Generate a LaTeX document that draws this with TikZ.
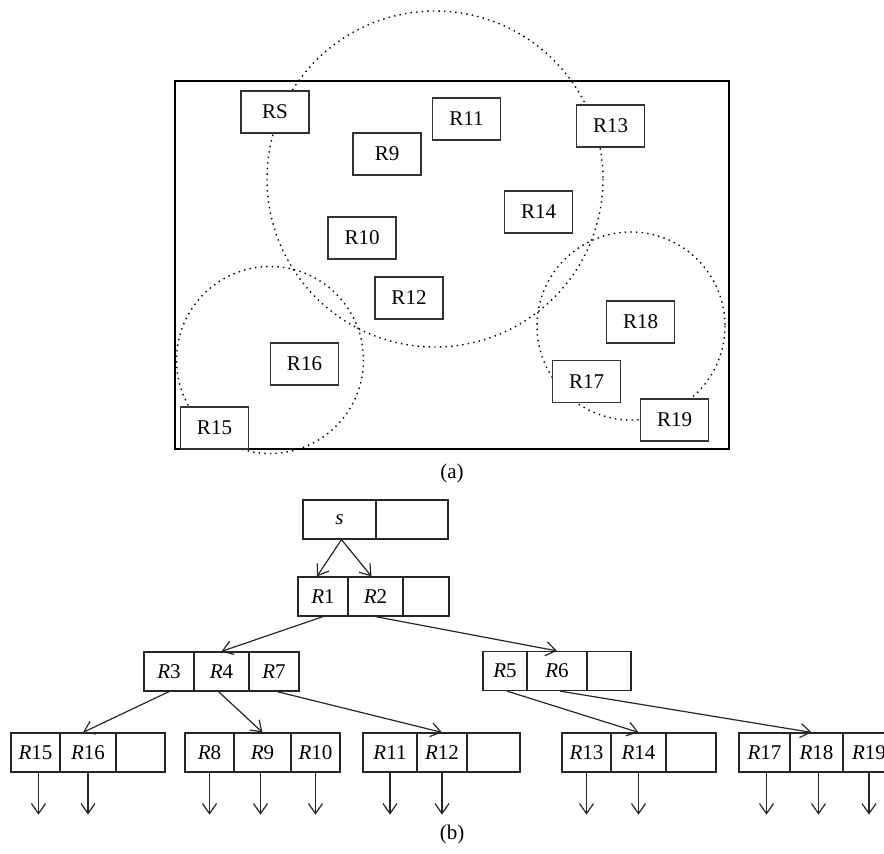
\documentclass[tikz,border=0pt]{standalone}
\usepackage{fontspec}
\setmainfont{Liberation Serif}
\usetikzlibrary{arrows.meta}

\begin{document}
\begin{tikzpicture}[x=0.5pt, y=-0.5pt,
  every node/.style={font=\fontsize{10.5}{12}\selectfont},
  region/.style={rectangle, draw=black!80, fill=white, line width=0.6pt,
                 minimum width=34pt, minimum height=21pt, inner sep=0pt},
  mbr/.style={dash pattern=on 0.7pt off 2.1pt, line width=0.7pt},
  slot/.style={rectangle, draw=black!85, line width=0.6pt, minimum width=#1,
               minimum height=19.5pt, inner sep=0pt},
  link/.style={-{Straight Barb[length=5pt,width=7pt]}, line width=0.6pt, black!85}
]
  \useasboundingbox (0,0) rectangle (884,853);

  % (a) regions and covering circles
  \draw[line width=0.55pt] (175,81) rectangle (729,449);
  \draw[mbr] (435,179) circle (168);
  \draw[mbr] (270,360) circle (93.5);
  \draw[mbr] (631,326) circle (94);

  \node[region] (rs)  at (275,112)   {RS};
  \node[region] (a11) at (466.5,119) {R11};
  \node[region] (a13) at (610.5,126) {R13};
  \node[region] (a9)  at (387,154)   {R9};
  \node[region] (a14) at (538.5,212) {R14};
  \node[region] (a10) at (362,238)   {R10};
  \node[region] (a12) at (409,298)   {R12};
  \node[region] (a18) at (640.5,322) {R18};
  \node[region] (a16) at (304.5,364) {R16};
  \node[region] (a17) at (586.5,381.5) {R17};
  \node[region] (a19) at (674.5,420) {R19};
  \node[region] (a15) at (214.5,428) {R15};

  \node (capa) at (452,473) {(a)};

  % (b) tree
  \node[slot=36.5pt] (s)   at (339.5,519.5) {\textit{s}};
  \node[slot=36pt]   (se)  at (412,519.5)   {};

  \node[slot=25pt]   (r1)  at (323,596.5)   {\textit{R}1};
  \node[slot=27.5pt] (r2)  at (375.5,596.5) {\textit{R}2};
  \node[slot=23pt]   (r2e) at (426,596.5)   {};

  \node[slot=25pt]   (r3)  at (169,671.5)   {\textit{R}3};
  \node[slot=27.5pt] (r4)  at (221.5,671.5) {\textit{R}4};
  \node[slot=25pt]   (r7)  at (274,671.5)   {\textit{R}7};

  \node[slot=22pt]   (r5)  at (505,671)     {\textit{R}5};
  \node[slot=30pt]   (r6)  at (557,671)     {\textit{R}6};
  \node[slot=22pt]   (r6e) at (609,671)     {};

  \node[slot=24.5pt] (r15)  at (35.5,752.5)  {\textit{R}15};
  \node[slot=28pt]   (r16)  at (88,752.5)    {\textit{R}16};
  \node[slot=24.5pt] (r16e) at (140.5,752.5) {};

  \node[slot=24.5pt] (r8)  at (209.5,752.5) {\textit{R}8};
  \node[slot=28.5pt] (r9)  at (262.5,752.5) {\textit{R}9};
  \node[slot=24.5pt] (r10) at (315.5,752.5) {\textit{R}10};

  \node[slot=27pt]   (r11)  at (390,752.5)   {\textit{R}11};
  \node[slot=25pt]   (r12)  at (442,752.5)   {\textit{R}12};
  \node[slot=26.5pt] (r12e) at (493.5,752.5) {};

  \node[slot=24.5pt] (r13)  at (586.5,752.5) {\textit{R}13};
  \node[slot=27.5pt] (r14)  at (638.5,752.5) {\textit{R}14};
  \node[slot=25pt]   (r14e) at (691,752.5)   {};

  \node[slot=25.5pt] (r17) at (764.5,752.5) {\textit{R}17};
  \node[slot=26.5pt] (r18) at (816.5,752.5) {\textit{R}18};
  \node[slot=26pt]   (r19) at (869,752.5)   {\textit{R}19};

  \draw[link] ([xshift=1pt]s.south) -- ([xshift=-3pt]r1.north);
  \draw[link] ([xshift=1pt]s.south) -- ([xshift=-2pt]r2.north);
  \draw[link] (r1.south) -- (r4.north);
  \draw[link] (r2.south) -- (r6.north);
  \draw[link] (r3.south) -- ([xshift=-2.5pt]r16.north);
  \draw[link] ([xshift=-1.5pt]r4.south) -- (r9.north);
  \draw[link] ([xshift=1.5pt]r7.south) -- (r12.north);
  \draw[link] ([xshift=1pt]r5.south) -- (r14.north);
  \draw[link] ([xshift=1.5pt]r6.south) -- ([xshift=-2.5pt]r18.north);

  % leaf pointers
  \draw[link] ([xshift=1.5pt]r15.south) -- ++(0,42);
  \draw[link] (r16.south) -- ++(0,42);
  \draw[link] (r8.south) -- ++(0,42);
  \draw[link] ([xshift=-1pt]r9.south) -- ++(0,42);
  \draw[link] (r10.south) -- ++(0,42);
  \draw[link] (r11.south) -- ++(0,42);
  \draw[link] (r12.south) -- ++(0,42);
  \draw[link] (r13.south) -- ++(0,42);
  \draw[link] (r14.south) -- ++(0,42);
  \draw[link] ([xshift=1pt]r17.south) -- ++(0,42);
  \draw[link] ([xshift=1pt]r18.south) -- ++(0,42);
  \draw[link] (r19.south) -- ++(0,42);

  \node (capb) at (452,834) {(b)};
\end{tikzpicture}
\end{document}
